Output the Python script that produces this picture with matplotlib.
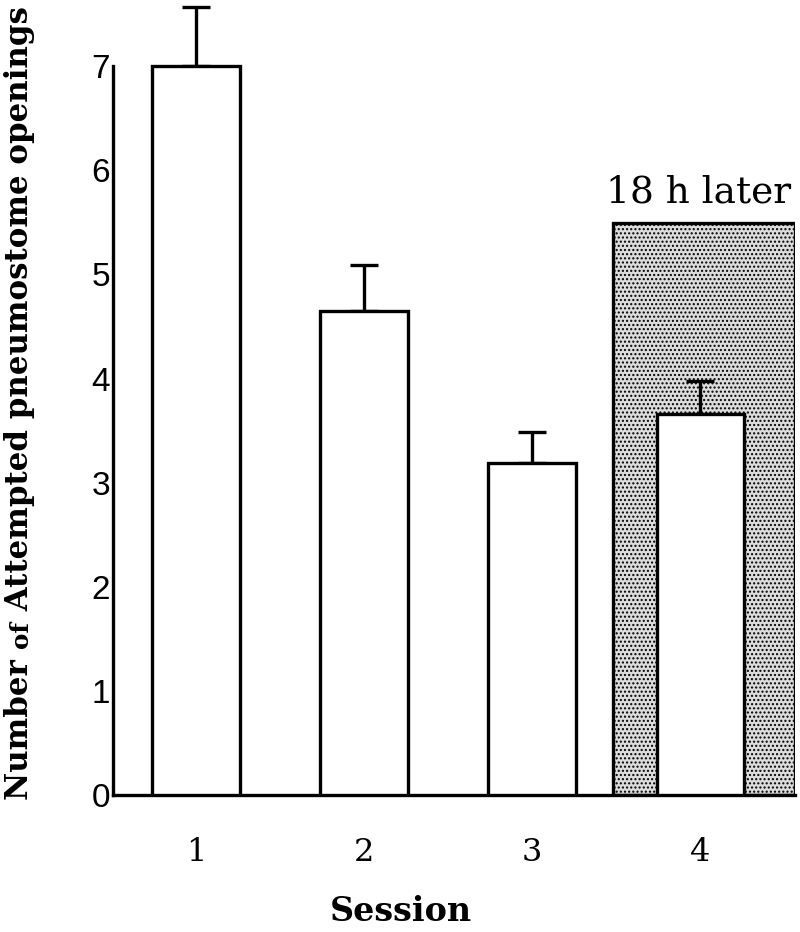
"""
Attempted pneumostome openings per session (bar chart with SEM error bars).
"""
import matplotlib
matplotlib.use("Agg")
import matplotlib.pyplot as plt
from matplotlib.patches import Rectangle

# data
sessions = [1, 2, 3, 4]
session_labels = ['1', '2', '3', '4']
means = [7.0, 4.65, 3.19, 3.66]
errors = [0.57, 0.44, 0.30, 0.32]
yticks = [0, 1, 2, 3, 4, 5, 6, 7]
later_session = 4
later_height = 5.49
later_label = '18 h later'

fig = plt.figure(figsize=(8, 9.32), dpi=100)
ax = fig.add_axes([0.14125, 0.147, 0.85275, 0.849])

lw = 2.4

# shaded background for the session run 18 h later
ax.add_patch(Rectangle((later_session - 0.518, 0), 1.083, later_height,
                       facecolor='#dcdcdc', edgecolor='black', hatch='....',
                       linewidth=lw, zorder=1))
ax.text(later_session - 0.01, later_height + 0.12, later_label, ha='center', va='bottom',
        fontsize=27, family='DejaVu Serif')

ax.bar(sessions, means, width=0.52, color='white', edgecolor='black',
       linewidth=lw, zorder=3)
ax.errorbar(sessions, means, yerr=[[0] * 4, errors], fmt='none', ecolor='black',
            elinewidth=lw, capsize=10, capthick=lw, zorder=2)

ax.set_xlim(0.506, 4.565)
ax.set_ylim(0, 7.6)
ax.set_yticks(yticks)
ax.set_yticklabels([str(t) for t in yticks], fontsize=24, family='Liberation Sans')
ax.set_xticks(sessions)
ax.set_xticklabels(session_labels, fontsize=23, family='DejaVu Serif')
ax.tick_params(length=0, pad=30)
ax.tick_params(axis='y', pad=2)

for s in ['top', 'right']:
    ax.spines[s].set_visible(False)
ax.spines['left'].set_bounds(0, 7)
ax.spines['left'].set_linewidth(lw)
ax.spines['bottom'].set_linewidth(lw)

fig.text(0.501, 0.0045, 'Session', ha='center', va='bottom', fontsize=24,
         fontweight='bold', family='DejaVu Serif')

# y label with a smaller "of", stacked bottom to top along one baseline
renderer = fig.canvas.get_renderer()
parts = [('Number ', 1.0), ('of', 0.8), (' Attempted pneumostome openings', 1.0)]
target_len = 793 / fig.bbox.height
x0 = 0.035
y0 = 0.1416


def place_label(base_size):
    y = y0
    made = []
    for txt, scale in parts:
        t = fig.text(x0, y, txt, rotation=90, ha='left', va='baseline',
                     rotation_mode='anchor', fontsize=base_size * scale,
                     fontweight='bold', family='DejaVu Serif')
        bb = t.get_window_extent(renderer)
        y += bb.height / fig.bbox.height
        made.append(t)
    return made, y - y0


made, length = place_label(20)
for t in made:
    t.remove()
place_label(20 * target_len / length)

fig.savefig('out.png', dpi=100)
